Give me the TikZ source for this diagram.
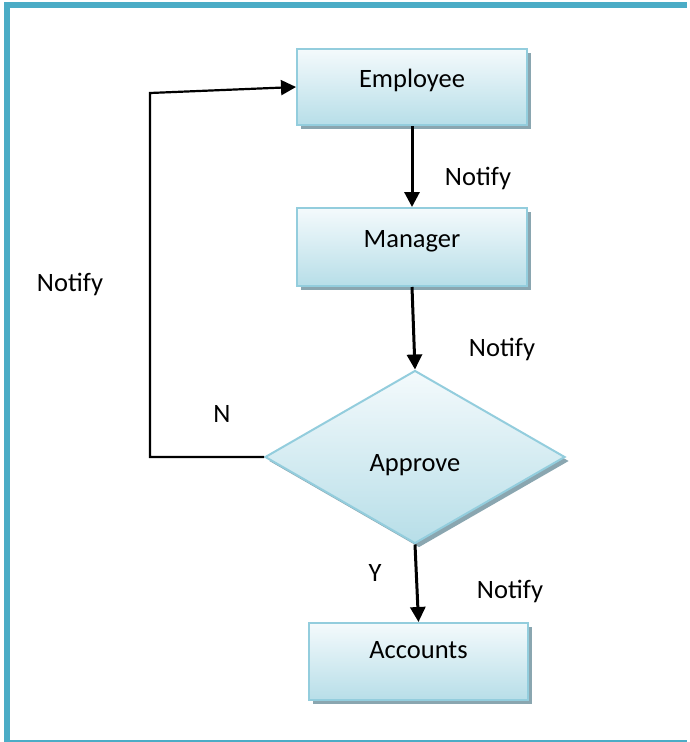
\documentclass[tikz,border=0pt]{standalone}
\usepackage{fontspec}
\setmainfont{Carlito}
\usetikzlibrary{shapes.geometric,shadows,arrows.meta}
\definecolor{frameblue}{RGB}{75,172,198}
\definecolor{boxedge}{RGB}{147,205,221}
\definecolor{boxtop}{RGB}{244,250,252}
\definecolor{boxbot}{RGB}{183,222,232}
\definecolor{shadowc}{RGB}{138,166,176}
\tikzset{
  flowbox/.style={rectangle, draw=boxedge, line width=2pt, top color=boxtop, bottom color=boxbot,
    drop shadow={shadow xshift=4pt, shadow yshift=-4pt, fill=shadowc, opacity=1},
    inner sep=0pt, font=\fontsize{26.5}{30}\selectfont},
  decision/.style={diamond, draw=boxedge, line width=2pt, top color=boxtop, bottom color=boxbot,
    drop shadow={shadow xshift=4pt, shadow yshift=-4pt, fill=shadowc, opacity=1},
    inner sep=0pt, minimum width=300pt, minimum height=173pt, font=\fontsize{26.5}{30}\selectfont},
  lbl/.style={font=\fontsize{26.5}{30}\selectfont, inner sep=0pt},
  flow/.style={line width=3pt, -{Triangle[length=15pt,width=15pt]}},
}
\begin{document}
\begin{tikzpicture}[x=1pt,y=-1pt]
\useasboundingbox (0,0) rectangle (690,742);
\fill[white] (0,0) rectangle (690,742);
% frame
\fill[frameblue] (4,2) rectangle (10,742);
\fill[frameblue] (4,2) rectangle (687,8);
\fill[frameblue] (4,739.5) rectangle (687,741.5);
% nodes
\node[flowbox, minimum width=230pt, minimum height=76pt, text height=10pt, text depth=10pt] (employee) at (412,87) {Employee};
\node[flowbox, minimum width=230pt, minimum height=78pt, text height=10pt, text depth=10pt] (manager) at (412,247) {Manager};
\node[decision, text height=28pt, text depth=0pt] (approve) at (415,457) {Approve};
\node[flowbox, minimum width=219pt, minimum height=77pt, text height=10pt, text depth=17pt] (accounts) at (418.5,661.5) {Accounts};
% connectors
\draw[flow] (employee.south) -- (manager.north);
\draw[flow] (manager.south) -- (approve.north);
\draw[flow] (approve.south) -- (accounts.north);
\draw[line width=2.2pt, -{Triangle[length=15pt,width=15pt]}] (approve.west) -- ++(-114,0) -- ++(0,-364) -- (employee.west);
% labels
\node[lbl] (n1) at (478,178) {Notify};
\node[lbl] (n2) at (502,349) {Notify};
\node[lbl] (n3) at (510,591) {Notify};
\node[lbl] (n4) at (70,284) {Notify};
\node[lbl] (nN) at (222,414) {N};
\node[lbl] (nY) at (375,573) {Y};
\end{tikzpicture}
\end{document}
